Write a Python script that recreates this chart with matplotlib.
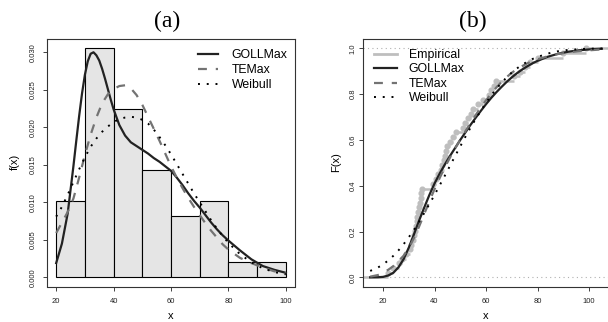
import numpy as np
import matplotlib
matplotlib.use("Agg")
import matplotlib.pyplot as plt

plt.rcParams['font.family'] = ['Liberation Sans', 'DejaVu Sans']

# histogram (density) of the data, bins of width 10 from 20 to 100
bin_left = [20, 30, 40, 50, 60, 70, 80, 90]
hist_dens = [0.0102, 0.0306, 0.0224, 0.0143, 0.0082, 0.0102, 0.0020, 0.0020]

# fitted densities
x_goll = [20, 22, 24, 26, 27, 28, 29, 30, 31, 32, 33, 34, 35, 36, 37, 38, 39, 40, 42, 44,
          46, 48, 50, 52, 54, 56, 58, 60, 62, 64, 66, 68, 70, 72, 74, 76, 78, 80, 84, 88,
          92, 96, 100]
goll_pdf = [0.0019, 0.0045, 0.0085, 0.0148, 0.0182, 0.0215, 0.0245, 0.0270, 0.0288, 0.0298,
            0.0300, 0.0296, 0.0289, 0.0278, 0.0265, 0.0251, 0.0237, 0.0224, 0.0203, 0.0189,
            0.0180, 0.0175, 0.0170, 0.0165, 0.0159, 0.0154, 0.0148, 0.0142, 0.0133, 0.0123,
            0.0112, 0.0102, 0.0093, 0.0083, 0.0073, 0.0064, 0.0056, 0.0049, 0.0036, 0.0024,
            0.0015, 0.0010, 0.0006]
x_pdf = [20, 22, 24, 26, 28, 30, 32, 34, 36, 38, 40, 42, 44, 46, 48, 50, 52, 54, 56,
         58, 60, 62, 64, 66, 68, 70, 72, 74, 76, 78, 80, 84, 88, 92, 96, 100]
temax_pdf = [0.0059, 0.0073, 0.0087, 0.0105, 0.0133, 0.0163, 0.0190, 0.0213, 0.0232,
             0.0244, 0.0251, 0.0255, 0.0256, 0.0252, 0.0243, 0.0230, 0.0214, 0.0198, 0.0182,
             0.0165, 0.0148, 0.0133, 0.0119, 0.0106, 0.0094, 0.0083, 0.0072, 0.0062, 0.0053,
             0.0044, 0.0037, 0.0026, 0.0019, 0.0013, 0.0008, 0.0005]
weib_pdf = [0.0081, 0.0094, 0.0110, 0.0127, 0.0144, 0.0160, 0.0174, 0.0185, 0.0194,
            0.0201, 0.0207, 0.0211, 0.0213, 0.0214, 0.0213, 0.0210, 0.0205, 0.0197, 0.0187,
            0.0176, 0.0164, 0.0151, 0.0138, 0.0125, 0.0112, 0.0100, 0.0088, 0.0076, 0.0065,
            0.0055, 0.0046, 0.0031, 0.0020, 0.0012, 0.0007, 0.0004]

# observations for the empirical cdf
obs = [22, 24, 26, 27.5, 29,
       30.5, 31, 31.5, 32, 32.3, 32.6, 33, 33.3, 33.6, 34, 34.3, 34.6, 34.8, 35, 39.5,
       40.5, 41.5, 42.5, 43, 43.5, 44, 44.5, 45, 46, 47, 48.5,
       51, 52, 53, 54, 55, 57, 59,
       61, 62, 63, 64,
       71, 73, 75, 77, 80,
       90, 99]

# fitted cdfs
x_cdf = [15, 18, 20, 22, 24, 26, 28, 30, 32, 34, 36, 38, 40, 42, 44, 46, 48, 50, 52, 54,
         56, 58, 60, 62, 64, 66, 68, 70, 72, 74, 76, 78, 80, 84, 88, 92, 96, 100, 105]
goll_cdf = [0.000, 0.0005, 0.002, 0.008, 0.020, 0.044, 0.080, 0.130, 0.188, 0.248, 0.305,
            0.360, 0.410, 0.453, 0.493, 0.530, 0.565, 0.600, 0.633, 0.666, 0.697, 0.727,
            0.756, 0.783, 0.808, 0.831, 0.853, 0.873, 0.891, 0.907, 0.921, 0.934, 0.945,
            0.963, 0.976, 0.985, 0.991, 0.995, 0.998]
temax_cdf = [0.003, 0.010, 0.020, 0.033, 0.049, 0.069, 0.095, 0.128, 0.172, 0.222, 0.277,
             0.332, 0.385, 0.434, 0.480, 0.523, 0.563, 0.601, 0.638, 0.674, 0.709, 0.742,
             0.773, 0.802, 0.829, 0.853, 0.874, 0.893, 0.909, 0.922, 0.934, 0.944, 0.952,
             0.965, 0.975, 0.982, 0.987, 0.991, 0.995]
weib_cdf = [0.028, 0.043, 0.056, 0.074, 0.094, 0.118, 0.145, 0.175, 0.208, 0.243, 0.281,
            0.320, 0.360, 0.402, 0.444, 0.487, 0.530, 0.572, 0.614, 0.654, 0.692, 0.728,
            0.762, 0.794, 0.823, 0.849, 0.873, 0.894, 0.912, 0.928, 0.941, 0.953, 0.962,
            0.977, 0.987, 0.993, 0.996, 0.998, 0.999]

W, H = 608, 322
fig = plt.figure(figsize=(W / 100, H / 100), dpi=100)


def px_axes(l, t, r, b):
    return fig.add_axes([l / W, 1 - b / H, (r - l) / W, (b - t) / H])


def style(ax, ypad):
    for s in ax.spines.values():
        s.set_color('#333333')
        s.set_linewidth(0.8)
    ax.tick_params(length=2.9, width=0.6, labelsize=5.5, colors='#222222')
    ax.tick_params(axis='x', pad=5.5)
    ax.tick_params(axis='y', pad=ypad, labelrotation=90)
    for lab in ax.get_yticklabels():
        lab.set_va('center')


# (a) histogram + densities
ax1 = px_axes(47, 38.6, 295, 286.5)
ax1.bar(bin_left, hist_dens, width=10, align='edge', color='#e5e5e5',
        edgecolor='black', linewidth=0.8)
ax1.plot(x_goll, goll_pdf, color='#222222', lw=1.6, label='GOLLMax')
ax1.plot(x_pdf, temax_pdf, color='#737373', lw=1.6, dashes=(4, 4), label='TEMax')
ax1.plot(x_pdf, weib_pdf, color='black', lw=1.4, dashes=(1, 3.5), label='Weibull')
ax1.set_xlim(16.8, 103.2)
ax1.set_ylim(-0.001224, 0.031824)
ax1.set_xticks([20, 40, 60, 80, 100])
yt = [0.0, 0.005, 0.010, 0.015, 0.020, 0.025, 0.030]
ax1.set_yticks(yt)
ax1.set_yticklabels(['%.3f' % v for v in yt])
style(ax1, 4.3)
ax1.legend(frameon=False, loc='upper left', bbox_to_anchor=(198 / W, 1 - 49 / H),
           bbox_transform=fig.transFigure, borderpad=0, borderaxespad=0,
           fontsize=8.8, handlelength=1.64, handletextpad=1.1, labelspacing=0.24)

# (b) empirical + fitted cdfs
ax2 = px_axes(363, 39.1, 614.75, 286.5)
ax2.set_xlim(12.2, 110)
ax2.set_ylim(-0.04, 1.04)
ax2.axhline(0, color='#b0b0b0', lw=0.8, dashes=(1, 3), zorder=1)
ax2.axhline(1, color='#b0b0b0', lw=0.8, dashes=(1, 3), zorder=1)
xs = np.sort(np.array(obs, dtype=float))
Fn = np.arange(1, len(xs) + 1) / len(xs)
ax2.hlines([0.0], 12.2, xs[0], color='#bebebe', lw=1.8, zorder=2)
ax2.hlines(Fn, xs, np.append(xs[1:], 110), color='#bebebe', lw=1.8, zorder=2)
ax2.plot(xs, Fn, 'o', color='#bebebe', ms=3.4, zorder=2)
ax2.plot([], [], color='#bebebe', lw=2.0, label='Empirical')
ax2.plot(x_cdf, goll_cdf, color='#222222', lw=1.6, label='GOLLMax', zorder=3)
ax2.plot(x_cdf, temax_cdf, color='#737373', lw=1.6, dashes=(4, 4), label='TEMax', zorder=3)
ax2.plot(x_cdf, weib_cdf, color='black', lw=1.4, dashes=(1, 3.5), label='Weibull', zorder=3)
ax2.set_xticks([20, 40, 60, 80, 100])
yt2 = [0.0, 0.2, 0.4, 0.6, 0.8, 1.0]
ax2.set_yticks(yt2)
ax2.set_yticklabels(['%.1f' % v for v in yt2])
style(ax2, 1.6)
ax2.legend(frameon=False, loc='upper left', bbox_to_anchor=(374 / W, 1 - 49 / H),
           bbox_transform=fig.transFigure, borderpad=0, borderaxespad=0,
           fontsize=8.8, handlelength=1.88, handletextpad=0.95, labelspacing=0.2)

# titles and axis labels
fig.text(167 / W, 1 - 21.7 / H, '(a)', family='Liberation Serif', fontsize=17,
         ha='center', va='center')
fig.text(473 / W, 1 - 21.7 / H, '(b)', family='Liberation Serif', fontsize=17,
         ha='center', va='center')
fig.text(15 / W, 1 - 162 / H, 'f(x)', fontsize=8, rotation=90, ha='center', va='center')
fig.text(335.7 / W, 1 - 162 / H, 'F(x)', fontsize=8, rotation=90, ha='center', va='center')
fig.text(171 / W, 1 - 319 / H, 'x', fontsize=8, ha='center', va='baseline')
fig.text(486 / W, 1 - 319 / H, 'x', fontsize=8, ha='center', va='baseline')

fig.savefig('out.png', dpi=100)
